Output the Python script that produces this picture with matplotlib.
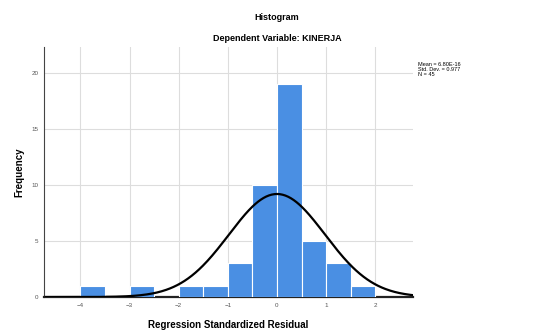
import numpy as np
import matplotlib
matplotlib.use("Agg")
import matplotlib.pyplot as plt

plt.rcParams['font.family'] = ['Liberation Sans', 'DejaVu Sans']

# data
bin_left = [-4.0, -3.0, -2.0, -1.5, -1.0, -0.5, 0.0, 0.5, 1.0, 1.5]
counts = [1, 1, 1, 1, 3, 10, 19, 5, 3, 1]
bin_width = 0.5
mean_val = 0.0
std_val = 0.977
n_total = 45
x_ticks = [-4, -3, -2, -1, 0, 1, 2]
y_ticks = [0, 5, 10, 15, 20]
stats_text = "Mean = 6.80E-16\nStd. Dev. = 0.977\nN = 45"

fig = plt.figure(figsize=(5.39, 3.33), dpi=100)
ax = fig.add_axes([0.0816, 0.108, 0.684, 0.751])

ax.bar(bin_left, counts, width=bin_width, align='edge', color='#4a8fe3',
       edgecolor='white', linewidth=0.8, zorder=3)

xs = np.linspace(-4.7, 2.75, 400)
pdf = n_total * bin_width / (std_val * np.sqrt(2 * np.pi)) * np.exp(-0.5 * ((xs - mean_val) / std_val) ** 2)
ax.plot(xs, pdf, color='black', linewidth=1.6, zorder=4)

ax.set_xlim(-4.74, 2.76)
ax.set_ylim(0, 22.3)
ax.set_xticks(x_ticks)
ax.set_yticks(y_ticks)
ax.tick_params(labelsize=4.5, length=0, pad=4, colors='#555555')
ax.grid(True, color='#dddddd', linewidth=0.8, zorder=0)
for s in ['top', 'right']:
    ax.spines[s].set_visible(False)
ax.spines['left'].set_color('#444444')
ax.spines['left'].set_linewidth(0.8)
ax.spines['bottom'].set_color('#222222')
ax.spines['bottom'].set_linewidth(1.6)

ax.set_xlabel('Regression Standardized Residual', fontsize=7, fontweight='bold', labelpad=9)
ax.set_ylabel('Frequency', fontsize=7, fontweight='bold', labelpad=5)

fig.text(0.514, 0.948, 'Histogram', ha='center', va='center', fontsize=6.5, fontweight='bold')
fig.text(0.514, 0.885, 'Dependent Variable: KINERJA', ha='center', va='center', fontsize=6.5, fontweight='bold')
fig.text(0.775, 0.815, stats_text, ha='left', va='top', fontsize=4, linespacing=1.1)

fig.savefig('out.png', dpi=100)
